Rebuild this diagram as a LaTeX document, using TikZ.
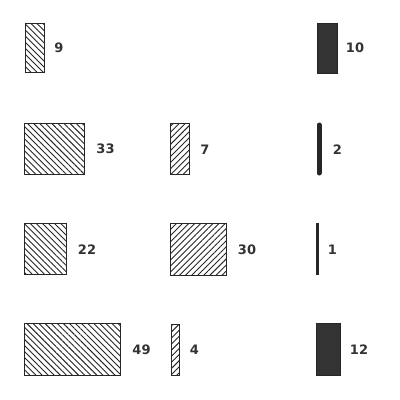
\documentclass[tikz,border=0pt]{standalone}
\usepackage{fontspec}
\setmainfont{DejaVu Sans}
\usetikzlibrary{patterns.meta}
\begin{document}
\begin{tikzpicture}[x=1pt,y=-1pt,
  base/.style={draw=black!85, line width=1pt, inner sep=0pt, outer sep=0pt},
  nw/.style={base, pattern={Lines[angle=-45,distance=4.3pt,line width=0.9pt]}, pattern color=black!85},
  ne/.style={base, pattern={Lines[angle=45,distance=4.3pt,line width=0.9pt]}, pattern color=black!85},
  solid box/.style={base, fill=black!80},
  lbl/.style={font=\fontsize{13}{15}\selectfont\bfseries, text=black!80, inner sep=0pt}]
\useasboundingbox (0,0) rectangle (400,400);
\fill[white] (0,0) rectangle (400,400);
% left column
\node[nw, minimum width=19pt, minimum height=49pt] (b9) at (34.5,47.5) {};
\node[nw, minimum width=60pt, minimum height=51pt] (b33) at (54,148.5) {};
\node[nw, minimum width=42pt, minimum height=51pt] (b22) at (45,248.5) {};
\node[nw, minimum width=96pt, minimum height=52pt] (b49) at (72,349) {};
% middle column
\node[ne, minimum width=19pt, minimum height=51pt] (b7) at (180,149) {};
\node[ne, minimum width=56pt, minimum height=52pt] (b30) at (198,249) {};
\node[ne, minimum width=8pt, minimum height=51pt] (b4) at (175,349.5) {};
% right column
\node[solid box, minimum width=20pt, minimum height=50pt] (b10) at (327,48) {};
\coordinate (b2t) at (319,125);
\coordinate (b2b) at (319,173);
\draw[line width=5pt, line cap=round, black!85] (b2t) -- (b2b);
\coordinate (b1t) at (317.5,223);
\coordinate (b1b) at (317.5,275);
\draw[line width=2.6pt, black!85] (b1t) -- (b1b);
\node[solid box, minimum width=24pt, minimum height=52pt] (b12) at (328,349) {};
% labels
\node[lbl] (l9) at (59,48) {9};
\node[lbl] (l33) at (105.5,149) {33};
\node[lbl] (l22) at (87,250) {22};
\node[lbl] (l49) at (141.5,350) {49};
\node[lbl] (l7) at (205,150) {7};
\node[lbl] (l30) at (247,250) {30};
\node[lbl] (l4) at (194.5,350) {4};
\node[lbl] (l10) at (355,48) {10};
\node[lbl] (l2) at (337.5,150) {2};
\node[lbl] (l1) at (332.5,250) {1};
\node[lbl] (l12) at (359,350) {12};
\end{tikzpicture}
\end{document}
